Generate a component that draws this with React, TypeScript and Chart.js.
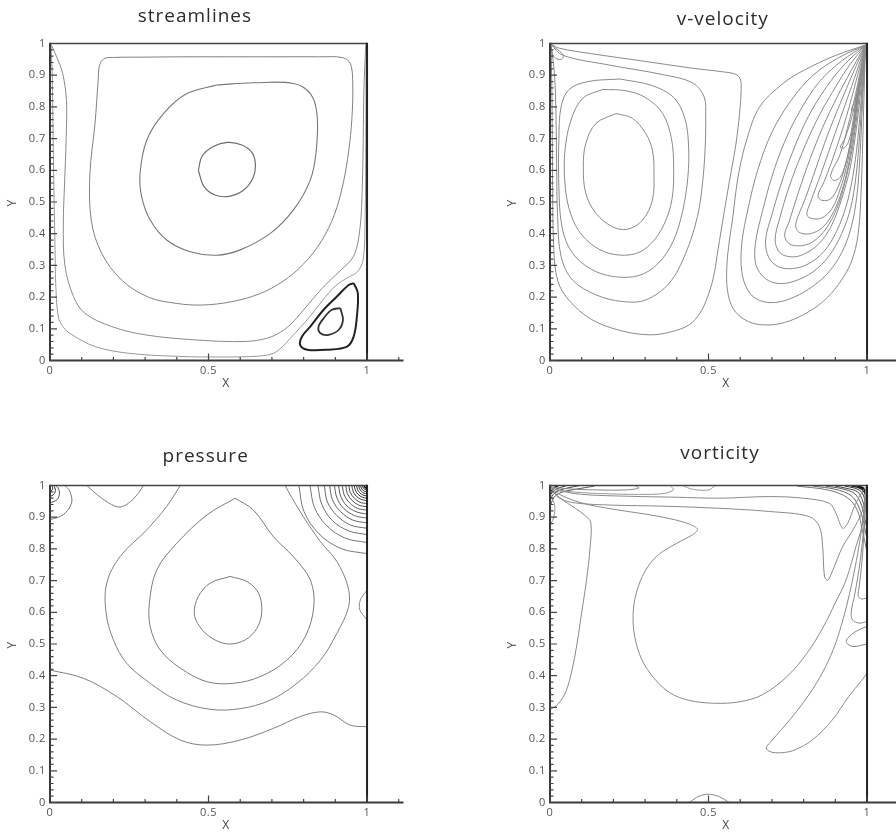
import React, { useEffect, useRef } from 'react';
import { Chart, registerables } from 'chart.js';

Chart.register(...registerables);

type Pt = [number, number];

// ---------- axis ticks ----------
const xMajorTicks = [0, 0.5, 1];
const xTickLabels = ['0', '0.5', '1'];
const xMinorTicks = [0.1, 0.2, 0.3, 0.4, 0.6, 0.7, 0.8, 0.9, 1.1];
const yMajorTicks = [0, 0.1, 0.2, 0.3, 0.4, 0.5, 0.6, 0.7, 0.8, 0.9, 1];
const yTickLabels = ['0', '0.1', '0.2', '0.3', '0.4', '0.5', '0.6', '0.7', '0.8', '0.9', '1'];
const yMinorTicks = [
  0.02, 0.04, 0.06, 0.08, 0.12, 0.14, 0.16, 0.18, 0.22, 0.24, 0.26, 0.28, 0.32, 0.34, 0.36, 0.38,
  0.42, 0.44, 0.46, 0.48, 0.52, 0.54, 0.56, 0.58, 0.62, 0.64, 0.66, 0.68, 0.72, 0.74, 0.76, 0.78,
  0.82, 0.84, 0.86, 0.88, 0.92, 0.94, 0.96, 0.98,
];
const xAxisEnd = 1.115;

// ---------- streamlines ----------
const streamCore: Pt[] = [[0.468,0.6],[0.48,0.645],[0.515,0.675],[0.56,0.688],[0.605,0.68],[0.638,0.655],[0.648,0.615],[0.64,0.575],[0.61,0.537],[0.565,0.518],[0.52,0.522],[0.485,0.55],[0.468,0.6]];
const streamRing2: Pt[] = [[0.526,0.869],[0.642,0.876],[0.768,0.874],[0.821,0.842],[0.842,0.779],[0.84,0.664],[0.821,0.569],[0.768,0.475],[0.695,0.401],[0.6,0.349],[0.526,0.332],[0.442,0.343],[0.368,0.38],[0.316,0.443],[0.289,0.517],[0.284,0.59],[0.305,0.695],[0.358,0.779],[0.432,0.842],[0.526,0.869]];
const streamRing3: Pt[] = [[0.55,0.958],[0.7,0.958],[0.85,0.958],[0.925,0.955],[0.948,0.935],[0.955,0.87],[0.952,0.76],[0.942,0.66],[0.925,0.56],[0.897,0.46],[0.855,0.375],[0.8,0.305],[0.735,0.25],[0.66,0.21],[0.57,0.185],[0.48,0.175],[0.4,0.18],[0.31,0.2],[0.226,0.254],[0.163,0.338],[0.13,0.443],[0.126,0.59],[0.142,0.748],[0.152,0.884],[0.156,0.93],[0.17,0.952],[0.2,0.956],[0.3,0.957],[0.42,0.958],[0.55,0.958]];
const streamRing4: Pt[] = [[0.004,0.996],[0.02,0.96],[0.04,0.905],[0.052,0.82],[0.051,0.7],[0.046,0.56],[0.042,0.43],[0.047,0.3],[0.074,0.202],[0.11,0.149],[0.195,0.107],[0.3,0.081],[0.458,0.065],[0.616,0.06],[0.69,0.072],[0.74,0.098],[0.779,0.135],[0.821,0.185],[0.87,0.24],[0.915,0.283],[0.958,0.33],[0.978,0.42],[0.985,0.55],[0.988,0.7],[0.99,0.85],[0.996,0.996]];
const streamRing5: Pt[] = [[0.003,0.998],[0.007,0.9],[0.01,0.7],[0.013,0.5],[0.016,0.35],[0.018,0.244],[0.026,0.139],[0.042,0.105],[0.068,0.082],[0.142,0.044],[0.247,0.023],[0.405,0.013],[0.55,0.011],[0.66,0.014],[0.705,0.023],[0.735,0.045],[0.758,0.07],[0.79,0.105],[0.821,0.14],[0.86,0.19],[0.9,0.235],[0.94,0.262],[0.97,0.28],[0.988,0.32],[0.994,0.45],[0.996,0.7],[0.997,0.998]];
const streamEddyOuter: Pt[] = [[0.958,0.244],[0.971,0.212],[0.968,0.139],[0.958,0.076],[0.937,0.044],[0.874,0.034],[0.811,0.034],[0.789,0.049],[0.795,0.076],[0.821,0.107],[0.863,0.16],[0.905,0.202],[0.942,0.238],[0.958,0.244]];
const streamEddyInner: Pt[] = [[0.916,0.165],[0.924,0.128],[0.911,0.097],[0.879,0.081],[0.853,0.086],[0.847,0.107],[0.863,0.133],[0.889,0.16],[0.916,0.165]];

// ---------- v-velocity ----------
const vLeft1: Pt[] = [[0.208,0.779],[0.26,0.764],[0.302,0.716],[0.323,0.664],[0.328,0.59],[0.323,0.506],[0.292,0.443],[0.244,0.414],[0.197,0.422],[0.145,0.464],[0.113,0.527],[0.105,0.611],[0.113,0.685],[0.145,0.748],[0.208,0.779]];
const vLeft2: Pt[] = [[0.166,0.855],[0.239,0.851],[0.3,0.83],[0.355,0.78],[0.383,0.7],[0.39,0.61],[0.385,0.51],[0.36,0.43],[0.32,0.37],[0.27,0.337],[0.2,0.335],[0.14,0.36],[0.09,0.41],[0.06,0.48],[0.047,0.56],[0.047,0.66],[0.066,0.758],[0.103,0.827],[0.166,0.855]];
const vLeft3: Pt[] = [[0.22,0.888],[0.32,0.868],[0.39,0.83],[0.425,0.765],[0.437,0.68],[0.435,0.58],[0.418,0.47],[0.388,0.375],[0.34,0.305],[0.28,0.268],[0.2,0.265],[0.13,0.288],[0.07,0.34],[0.038,0.42],[0.028,0.55],[0.028,0.7],[0.035,0.8],[0.06,0.855],[0.12,0.88],[0.22,0.888]];
const vLeft4: Pt[] = [[0.003,0.997],[0.04,0.963],[0.187,0.932],[0.355,0.902],[0.449,0.876],[0.486,0.832],[0.491,0.769],[0.489,0.664],[0.481,0.559],[0.465,0.454],[0.428,0.338],[0.376,0.244],[0.302,0.191],[0.229,0.186],[0.145,0.207],[0.071,0.254],[0.035,0.328],[0.024,0.454],[0.021,0.611],[0.019,0.769],[0.014,0.905],[0.003,0.997]];
const vLeft5: Pt[] = [[0.003,0.998],[0.03,0.985],[0.13,0.968],[0.29,0.945],[0.45,0.922],[0.55,0.91],[0.585,0.903],[0.6,0.888],[0.603,0.855],[0.598,0.78],[0.586,0.68],[0.565,0.56],[0.548,0.46],[0.53,0.35],[0.515,0.26],[0.493,0.19],[0.472,0.148],[0.44,0.113],[0.38,0.09],[0.313,0.081],[0.22,0.095],[0.13,0.13],[0.06,0.19],[0.025,0.25],[0.012,0.35],[0.008,0.6],[0.006,0.85],[0.003,0.998]];
const vLeftCorner: Pt[] = [[0.003,0.997],[0.025,0.98],[0.042,0.963],[0.036,0.95],[0.015,0.955],[0.006,0.975],[0.003,0.997]];
const vRight1: Pt[] = [[0.995,0.995],[0.9,0.962],[0.8,0.915],[0.735,0.874],[0.661,0.8],[0.62,0.695],[0.597,0.6],[0.587,0.538],[0.575,0.44],[0.566,0.38],[0.558,0.3],[0.56,0.22],[0.58,0.16],[0.625,0.123],[0.682,0.112],[0.74,0.12],[0.8,0.145],[0.86,0.185],[0.91,0.24],[0.95,0.31],[0.972,0.4],[0.982,0.55],[0.988,0.75],[0.995,0.995]];
const vRight2: Pt[] = [[0.995,0.995],[0.91,0.955],[0.83,0.9],[0.76,0.82],[0.7,0.72],[0.655,0.6],[0.625,0.48],[0.605,0.37],[0.605,0.28],[0.625,0.22],[0.66,0.19],[0.711,0.183],[0.77,0.2],[0.83,0.235],[0.88,0.28],[0.92,0.34],[0.95,0.42],[0.968,0.52],[0.978,0.65],[0.985,0.8],[0.995,0.995]];
const vRight3: Pt[] = [[0.995,0.995],[0.92,0.945],[0.85,0.88],[0.79,0.79],[0.74,0.69],[0.7,0.58],[0.67,0.47],[0.648,0.37],[0.65,0.3],[0.68,0.258],[0.72,0.243],[0.77,0.25],[0.83,0.28],[0.88,0.33],[0.92,0.4],[0.948,0.48],[0.965,0.58],[0.976,0.7],[0.985,0.84],[0.995,0.995]];
const vRight4: Pt[] = [[0.995,0.995],[0.93,0.935],[0.87,0.86],[0.815,0.77],[0.77,0.67],[0.73,0.56],[0.7,0.46],[0.68,0.38],[0.69,0.325],[0.72,0.296],[0.765,0.29],[0.815,0.305],[0.865,0.345],[0.905,0.41],[0.935,0.49],[0.955,0.58],[0.97,0.69],[0.982,0.83],[0.995,0.995]];
const vRight5: Pt[] = [[0.995,0.995],[0.94,0.925],[0.89,0.845],[0.84,0.755],[0.795,0.655],[0.755,0.55],[0.725,0.45],[0.71,0.38],[0.725,0.34],[0.76,0.327],[0.8,0.335],[0.85,0.37],[0.89,0.43],[0.92,0.51],[0.945,0.6],[0.962,0.7],[0.978,0.83],[0.995,0.995]];
const vRight6: Pt[] = [[0.995,0.995],[0.95,0.915],[0.905,0.83],[0.86,0.735],[0.82,0.635],[0.785,0.535],[0.755,0.44],[0.74,0.395],[0.755,0.368],[0.79,0.362],[0.83,0.375],[0.87,0.415],[0.905,0.48],[0.93,0.56],[0.95,0.65],[0.965,0.75],[0.978,0.86],[0.995,0.995]];
const vRight7: Pt[] = [[0.995,0.995],[0.955,0.905],[0.915,0.81],[0.875,0.71],[0.84,0.61],[0.805,0.51],[0.775,0.43],[0.785,0.405],[0.82,0.4],[0.86,0.42],[0.895,0.47],[0.922,0.54],[0.942,0.62],[0.958,0.72],[0.972,0.83],[0.995,0.995]];
const vRight8: Pt[] = [[0.995,0.995],[0.96,0.89],[0.925,0.79],[0.89,0.69],[0.855,0.59],[0.822,0.5],[0.81,0.46],[0.825,0.448],[0.858,0.45],[0.89,0.48],[0.915,0.54],[0.935,0.61],[0.952,0.7],[0.967,0.8],[0.98,0.9],[0.995,0.995]];
const vRight9: Pt[] = [[0.995,0.995],[0.965,0.88],[0.935,0.77],[0.9,0.66],[0.865,0.565],[0.845,0.52],[0.858,0.505],[0.885,0.51],[0.91,0.55],[0.93,0.61],[0.948,0.69],[0.963,0.78],[0.978,0.88],[0.995,0.995]];
const vRight10: Pt[] = [[0.995,0.995],[0.97,0.87],[0.945,0.76],[0.915,0.65],[0.885,0.585],[0.895,0.568],[0.915,0.578],[0.932,0.62],[0.948,0.69],[0.962,0.78],[0.977,0.88],[0.995,0.995]];
const vRight11: Pt[] = [[0.995,0.995],[0.975,0.88],[0.955,0.78],[0.93,0.7],[0.915,0.672],[0.93,0.672],[0.945,0.7],[0.958,0.77],[0.972,0.86],[0.985,0.93],[0.995,0.995]];
const vRight12: Pt[] = [[0.995,0.995],[0.98,0.9],[0.962,0.82],[0.95,0.79],[0.96,0.79],[0.972,0.84],[0.983,0.91],[0.995,0.995]];
const vRight13: Pt[] = [[0.995,0.995],[0.985,0.9],[0.975,0.85],[0.978,0.84],[0.987,0.87],[0.995,0.995]];

// ---------- pressure ----------
const pInner: Pt[] = [[0.568,0.713],[0.621,0.697],[0.658,0.66],[0.668,0.602],[0.653,0.55],[0.616,0.513],[0.563,0.5],[0.511,0.518],[0.472,0.555],[0.455,0.597],[0.468,0.65],[0.505,0.692],[0.568,0.713]];
const pMiddle: Pt[] = [[0.584,0.96],[0.642,0.922],[0.705,0.838],[0.768,0.775],[0.821,0.702],[0.832,0.617],[0.805,0.523],[0.747,0.449],[0.663,0.397],[0.579,0.376],[0.495,0.381],[0.411,0.424],[0.347,0.482],[0.316,0.555],[0.314,0.634],[0.337,0.734],[0.4,0.818],[0.495,0.907],[0.584,0.96]];
const pOuter: Pt[] = [[0.411,1.0],[0.368,0.934],[0.305,0.86],[0.221,0.776],[0.179,0.692],[0.177,0.597],[0.2,0.513],[0.242,0.439],[0.316,0.376],[0.4,0.323],[0.505,0.294],[0.6,0.296],[0.695,0.323],[0.779,0.376],[0.853,0.449],[0.905,0.534],[0.942,0.618],[0.94,0.68],[0.905,0.76],[0.853,0.823],[0.8,0.9],[0.758,0.97],[0.742,1.0]];
const pWave: Pt[] = [[0,0.418],[0.105,0.392],[0.211,0.334],[0.316,0.255],[0.411,0.197],[0.495,0.181],[0.6,0.197],[0.705,0.234],[0.789,0.271],[0.853,0.286],[0.895,0.276],[0.947,0.244],[1.0,0.239]];
const pTopDip: Pt[] = [[0.116,1.0],[0.15,0.97],[0.185,0.945],[0.221,0.932],[0.255,0.95],[0.28,0.978],[0.295,1.0]];
const pLeftCorner1: Pt[] = [[0,0.892],[0.042,0.908],[0.068,0.945],[0.063,0.981],[0.047,1.0]];
const pLeftCorner2: Pt[] = [[0,0.945],[0.022,0.955],[0.03,0.975],[0.025,0.993],[0.018,1.0]];
const pLeftCorner3: Pt[] = [[0,0.965],[0.012,0.972],[0.017,0.985],[0.012,1.0]];
const pLeftCorner4: Pt[] = [[0,0.98],[0.008,0.988],[0.007,1.0]];
const pRightBump: Pt[] = [[1.0,0.67],[0.979,0.639],[0.977,0.608],[1.0,0.576]];
const pArc1: Pt[] = [[0.785,1],[0.801,0.918],[0.848,0.848],[0.918,0.801],[1,0.785]];
const pArc2: Pt[] = [[0.82,1],[0.834,0.931],[0.873,0.873],[0.931,0.834],[1,0.82]];
const pArc3: Pt[] = [[0.845,1],[0.857,0.941],[0.89,0.89],[0.941,0.857],[1,0.845]];
const pArc4: Pt[] = [[0.865,1],[0.875,0.948],[0.905,0.905],[0.948,0.875],[1,0.865]];
const pArc5: Pt[] = [[0.882,1],[0.891,0.955],[0.917,0.917],[0.955,0.891],[1,0.882]];
const pArc6: Pt[] = [[0.897,1],[0.905,0.961],[0.927,0.927],[0.961,0.905],[1,0.897]];
const pArc7: Pt[] = [[0.91,1],[0.917,0.966],[0.936,0.936],[0.966,0.917],[1,0.91]];
const pArc8: Pt[] = [[0.922,1],[0.928,0.97],[0.945,0.945],[0.97,0.928],[1,0.922]];
const pArc9: Pt[] = [[0.933,1],[0.938,0.974],[0.953,0.953],[0.974,0.938],[1,0.933]];
const pArc10: Pt[] = [[0.943,1],[0.947,0.978],[0.96,0.96],[0.978,0.947],[1,0.943]];
const pArc11: Pt[] = [[0.952,1],[0.956,0.982],[0.966,0.966],[0.982,0.956],[1,0.952]];
const pArc12: Pt[] = [[0.96,1],[0.963,0.985],[0.972,0.972],[0.985,0.963],[1,0.96]];
const pArc13: Pt[] = [[0.967,1],[0.97,0.987],[0.977,0.977],[0.987,0.97],[1,0.967]];
const pArc14: Pt[] = [[0.974,1],[0.976,0.99],[0.982,0.982],[0.99,0.976],[1,0.974]];
const pArc15: Pt[] = [[0.98,1],[0.982,0.992],[0.986,0.986],[0.992,0.982],[1,0.98]];
const pArc16: Pt[] = [[0.986,1],[0.987,0.995],[0.99,0.99],[0.995,0.987],[1,0.986]];
const pArc17: Pt[] = [[0.991,1],[0.992,0.997],[0.994,0.994],[0.997,0.992],[1,0.991]];

// ---------- vorticity ----------
const wCircle: Pt[] = [[0.003,0.995],[0.03,0.972],[0.1,0.945],[0.2,0.925],[0.3,0.91],[0.38,0.895],[0.44,0.878],[0.465,0.862],[0.45,0.845],[0.4,0.818],[0.34,0.78],[0.3,0.73],[0.272,0.66],[0.262,0.59],[0.268,0.52],[0.29,0.45],[0.33,0.39],[0.38,0.345],[0.44,0.322],[0.52,0.313],[0.6,0.318],[0.67,0.34],[0.745,0.395],[0.81,0.47],[0.86,0.55],[0.9,0.63],[0.934,0.702],[0.965,0.807],[0.986,0.881],[0.997,0.995]];
const wTopLong: Pt[] = [[0.003,0.99],[0.03,0.96],[0.08,0.945],[0.2,0.938],[0.35,0.935],[0.535,0.928],[0.692,0.918],[0.818,0.902],[0.85,0.87],[0.86,0.807],[0.866,0.712],[0.876,0.701],[0.892,0.733],[0.923,0.807],[0.955,0.859],[0.986,0.922],[0.997,0.995]];
const wTopShort: Pt[] = [[0.02,0.985],[0.1,0.972],[0.25,0.966],[0.4,0.963],[0.535,0.96],[0.692,0.965],[0.797,0.96],[0.881,0.944],[0.902,0.912],[0.923,0.865],[0.939,0.881],[0.96,0.934],[0.976,0.965],[0.995,0.995]];
const wLeftTongue: Pt[] = [[0.005,0.99],[0.03,0.962],[0.08,0.928],[0.113,0.903],[0.129,0.882],[0.126,0.8],[0.115,0.7],[0.1,0.6],[0.085,0.5],[0.07,0.42],[0.05,0.35],[0.025,0.31],[0,0.292]];
const wLeftWall: Pt[] = [[0.003,0.97],[0.015,0.935],[0.012,0.9],[0.003,0.88]];
const wRightTongue: Pt[] = [[0.998,0.995],[0.99,0.92],[0.978,0.83],[0.962,0.74],[0.945,0.66],[0.925,0.58],[0.9,0.5],[0.87,0.43],[0.83,0.36],[0.78,0.29],[0.73,0.23],[0.695,0.19],[0.682,0.172],[0.695,0.16],[0.73,0.157],[0.77,0.165],[0.827,0.197],[0.89,0.26],[0.942,0.334],[0.984,0.386],[0.998,0.405]];
const wWall1: Pt[] = [[0.998,0.99],[0.992,0.88],[0.984,0.76],[0.975,0.68],[0.972,0.652],[0.982,0.642],[0.998,0.645]];
const wWall2: Pt[] = [[0.998,0.99],[0.99,0.87],[0.978,0.76],[0.962,0.66],[0.95,0.6],[0.955,0.575],[0.975,0.566],[0.998,0.57]];
const wWall3: Pt[] = [[0.998,0.555],[0.965,0.54],[0.94,0.52],[0.935,0.505],[0.955,0.492],[0.998,0.5]];
const wTopA: Pt[] = [[0.003,0.993],[0.05,0.982],[0.15,0.975],[0.28,0.972],[0.36,0.975],[0.39,0.987],[0.38,0.998]];
const wTopB: Pt[] = [[0.003,0.996],[0.05,0.99],[0.15,0.986],[0.24,0.986],[0.28,0.992],[0.27,0.999]];
const wTopC: Pt[] = [[0.42,0.999],[0.45,0.988],[0.5,0.986],[0.52,0.999]];
const wCornerL1: Pt[] = [[0.003,0.94],[0.012,0.962],[0.035,0.978],[0.08,0.988],[0.14,0.998]];
const wCornerL2: Pt[] = [[0.003,0.958],[0.01,0.972],[0.03,0.985],[0.06,0.993],[0.09,0.999]];
const wCornerL3: Pt[] = [[0.003,0.972],[0.01,0.982],[0.025,0.991],[0.05,0.999]];
const wCornerL4: Pt[] = [[0.003,0.984],[0.012,0.992],[0.025,0.999]];
const wCornerR1: Pt[] = [[0.78,0.998],[0.88,0.985],[0.94,0.96],[0.97,0.92],[0.985,0.86],[0.998,0.8]];
const wCornerR2: Pt[] = [[0.83,0.998],[0.9,0.988],[0.95,0.968],[0.975,0.93],[0.99,0.88],[0.998,0.84]];
const wCornerR3: Pt[] = [[0.87,0.998],[0.92,0.99],[0.96,0.975],[0.98,0.945],[0.992,0.9],[0.998,0.87]];
const wCornerR4: Pt[] = [[0.9,0.998],[0.94,0.99],[0.97,0.98],[0.985,0.955],[0.995,0.92]];
const wCornerR5: Pt[] = [[0.93,0.998],[0.96,0.992],[0.98,0.982],[0.99,0.965],[0.997,0.94]];
const wCornerR6: Pt[] = [[0.95,0.998],[0.975,0.993],[0.99,0.982],[0.997,0.965]];
const wCornerR7: Pt[] = [[0.97,0.998],[0.985,0.993],[0.995,0.983]];
const wBottomBump: Pt[] = [[0.439,0],[0.47,0.02],[0.502,0.026],[0.535,0.018],[0.565,0]];

// ---------- panel setup ----------
type Curve = { pts: Pt[]; color: string; width: number };
type PanelSpec = { title: string; titleX: number; titleDy: number; left: number; top: number; curves: Curve[] };

const thin = (pts: Pt[], color = '#8a8a8a', width = 1): Curve => ({ pts, color, width });

const panels: PanelSpec[] = [
  {
    title: 'streamlines', titleX: 0.457, titleDy: 26.5, left: 0, top: 0,
    curves: [
      thin(streamCore, '#6e6e6e', 1.2), thin(streamRing2, '#777', 1.1), thin(streamRing3, '#808080', 1),
      thin(streamRing4, '#8a8a8a', 1), thin(streamRing5, '#999', 1),
      thin(streamEddyOuter, '#222', 2), thin(streamEddyInner, '#333', 1.8),
    ],
  },
  {
    title: 'v-velocity', titleX: 0.545, titleDy: 23.5, left: 500, top: 0,
    curves: [
      thin(vLeft1), thin(vLeft2), thin(vLeft3), thin(vLeft4), thin(vLeft5), thin(vLeftCorner),
      thin(vRight1), thin(vRight2), thin(vRight3), thin(vRight4), thin(vRight5), thin(vRight6),
      thin(vRight7), thin(vRight8), thin(vRight9), thin(vRight10), thin(vRight11), thin(vRight12),
      thin(vRight13),
    ],
  },
  {
    title: 'pressure', titleX: 0.491, titleDy: 28.8, left: 0, top: 442,
    curves: [
      thin(pInner, '#7a7a7a'), thin(pMiddle, '#7a7a7a'), thin(pOuter, '#808080'), thin(pWave, '#808080'),
      thin(pTopDip, '#808080'), thin(pLeftCorner1, '#777'), thin(pLeftCorner2, '#555'),
      thin(pLeftCorner3, '#333'), thin(pLeftCorner4, '#222'), thin(pRightBump, '#888'),
      thin(pArc1, '#777'), thin(pArc2, '#777'), thin(pArc3, '#707070'), thin(pArc4, '#6a6a6a'),
      thin(pArc5, '#666'), thin(pArc6, '#606060'), thin(pArc7, '#5a5a5a'), thin(pArc8, '#555'),
      thin(pArc9, '#505050'), thin(pArc10, '#4a4a4a'), thin(pArc11, '#444'), thin(pArc12, '#3a3a3a'),
      thin(pArc13, '#333'), thin(pArc14, '#2a2a2a'), thin(pArc15, '#222'), thin(pArc16, '#1a1a1a'),
      thin(pArc17, '#111', 1.5),
    ],
  },
  {
    title: 'vorticity', titleX: 0.536, titleDy: 32.2, left: 500, top: 442,
    curves: [
      thin(wCircle), thin(wTopLong), thin(wTopShort), thin(wLeftTongue), thin(wLeftWall, '#999'),
      thin(wRightTongue), thin(wWall1, '#888'), thin(wWall2, '#888'), thin(wWall3, '#888'),
      thin(wTopA, '#999'), thin(wTopB, '#888'), thin(wTopC, '#999'),
      thin(wCornerL1, '#555'), thin(wCornerL2, '#444'), thin(wCornerL3, '#333'), thin(wCornerL4, '#222', 1.5),
      thin(wCornerR1, '#777'), thin(wCornerR2, '#666'), thin(wCornerR3, '#555'), thin(wCornerR4, '#444'),
      thin(wCornerR5, '#333'), thin(wCornerR6, '#222', 1.5), thin(wCornerR7, '#111', 2),
      thin(wBottomBump, '#888'),
    ],
  },
];

const CANVAS_W = 448;
const CANVAS_H = 418;

function makeAxesPlugin(spec: PanelSpec) {
  return {
    id: 'cavityAxes',
    afterDatasetsDraw(chart: any) {
      const { ctx } = chart;
      const xs = chart.scales.x;
      const ys = chart.scales.y;
      const X = (v: number) => xs.getPixelForValue(v);
      const Y = (v: number) => ys.getPixelForValue(v);
      ctx.save();
      // frame: top and right edges
      ctx.strokeStyle = '#444';
      ctx.lineWidth = 1.5;
      ctx.beginPath();
      ctx.moveTo(X(0), Y(1));
      ctx.lineTo(X(1), Y(1));
      ctx.stroke();
      ctx.strokeStyle = '#222';
      ctx.lineWidth = 2;
      ctx.beginPath();
      ctx.moveTo(X(1), Y(1) - 0.75);
      ctx.lineTo(X(1), Y(0));
      ctx.stroke();
      // axes
      ctx.strokeStyle = '#3a3a3a';
      ctx.lineWidth = 2;
      ctx.beginPath();
      ctx.moveTo(X(0), Y(1) - 0.75);
      ctx.lineTo(X(0), Y(0));
      ctx.lineTo(X(xAxisEnd), Y(0));
      ctx.stroke();
      // ticks
      ctx.lineWidth = 1.2;
      ctx.strokeStyle = '#444';
      ctx.beginPath();
      yMajorTicks.forEach((v) => { ctx.moveTo(X(0), Y(v)); ctx.lineTo(X(0) + 7, Y(v)); });
      yMinorTicks.forEach((v) => { ctx.moveTo(X(0), Y(v)); ctx.lineTo(X(0) + 3.5, Y(v)); });
      xMajorTicks.forEach((v) => { ctx.moveTo(X(v), Y(0)); ctx.lineTo(X(v), Y(0) - 7); });
      xMinorTicks.forEach((v) => { ctx.moveTo(X(v), Y(0)); ctx.lineTo(X(v), Y(0) - 3.5); });
      ctx.stroke();
      // tick labels
      ctx.fillStyle = '#555';
      ctx.font = '11px "Open Sans", "DejaVu Sans", sans-serif';
      try { (ctx as any).letterSpacing = '0.6px'; } catch (e) { /* ignore */ }
      ctx.textAlign = 'right';
      ctx.textBaseline = 'middle';
      yMajorTicks.forEach((v, i) => ctx.fillText(yTickLabels[i], X(0) - 4, Y(v)));
      ctx.textAlign = 'center';
      xMajorTicks.forEach((v, i) => ctx.fillText(xTickLabels[i], X(v), Y(0) + 10));
      // axis titles
      ctx.fillStyle = '#444';
      ctx.font = '12px "Open Sans", "DejaVu Sans", sans-serif';
      ctx.fillText('X', X(0.555), Y(0) + 23);
      ctx.save();
      ctx.translate(X(0) - 37, Y(0.497));
      ctx.rotate(-Math.PI / 2);
      ctx.fillText('Y', 0, 0);
      ctx.restore();
      // panel title
      ctx.fillStyle = '#2b2b2b';
      ctx.font = '19px "Open Sans", "DejaVu Sans", sans-serif';
      try { (ctx as any).letterSpacing = '1px'; } catch (e) { /* ignore */ }
      ctx.fillText(spec.title, X(spec.titleX), Y(1) - spec.titleDy);
      ctx.restore();
    },
  };
}

function ContourPanel({ spec }: { spec: PanelSpec }) {
  const ref = useRef<HTMLCanvasElement | null>(null);
  useEffect(() => {
    if (!ref.current) return;
    const datasets = spec.curves.map((c) => ({
      data: c.pts.map(([x, y]) => ({ x, y })),
      showLine: true,
      pointRadius: 0,
      pointHoverRadius: 0,
      borderColor: c.color,
      borderWidth: c.width,
      backgroundColor: 'transparent',
      fill: false,
      tension: 0.35,
    }));
    const chart = new Chart(ref.current, {
      type: 'scatter',
      data: { datasets },
      options: {
        animation: false,
        responsive: false,
        maintainAspectRatio: false,
        devicePixelRatio: 1,
        events: [],
        layout: { padding: { left: 50, top: 43.5, right: 44.5, bottom: 57.5 } },
        scales: {
          x: { type: 'linear', min: 0, max: xAxisEnd, display: false },
          y: { type: 'linear', min: 0, max: 1, display: false },
        },
        plugins: { legend: { display: false }, tooltip: { enabled: false }, title: { display: false } },
      },
      plugins: [makeAxesPlugin(spec)],
    } as any);
    return () => chart.destroy();
  }, [spec]);
  return (
    <canvas
      ref={ref}
      width={CANVAS_W}
      height={CANVAS_H}
      style={{ position: 'absolute', left: spec.left, top: spec.top, width: CANVAS_W, height: CANVAS_H }}
    />
  );
}

export default function App() {
  return (
    <div style={{ position: 'absolute', left: 0, top: 0, width: 896, height: 835, overflow: 'hidden', background: '#fff' }}>
      {panels.map((p) => (
        <ContourPanel key={p.title} spec={p} />
      ))}
    </div>
  );
}
